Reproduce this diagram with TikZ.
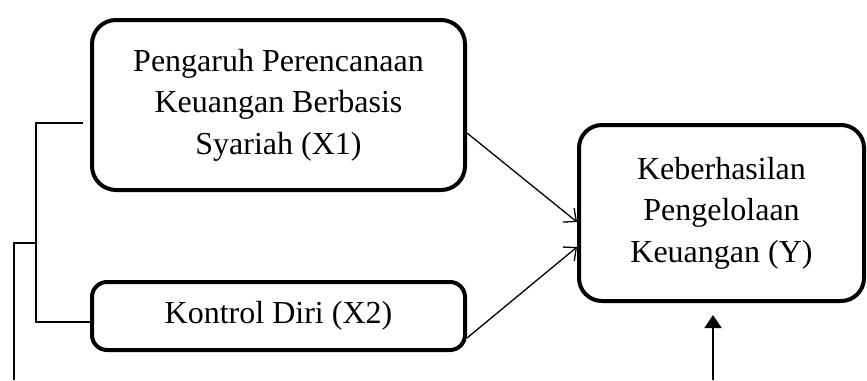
\documentclass[tikz,border=0pt]{standalone}
\usepackage{fontspec}
\setmainfont{Liberation Serif}
\usetikzlibrary{positioning, arrows.meta}

\begin{document}
\begin{tikzpicture} [
						x=0.5pt, y=-0.5pt,
						node distance=44pt,
						every node/.style={font=\fontsize{16pt}{20.8pt}\selectfont, align=center},
						var/.style={draw, line width=2pt, rounded corners=12pt, inner sep=0pt},
						link/.style={line width=0.65pt},
						>={Straight Barb[length=5pt,width=9pt]}
					]

\useasboundingbox (0,0) rectangle (867,380);

\node (x1) [var, minimum width=186.5pt, minimum height=85pt] at (278.5,105) {Pengaruh Perencanaan\\Keuangan Berbasis\\Syariah (X1)};
\node (x2) [var, rounded corners=7.5pt, minimum width=186.5pt, minimum height=34pt, below=of x1] {Kontrol Diri (X2)};
\node (y) [var, rounded corners=11.5pt, minimum width=142.5pt, minimum height=88pt] at (721.5,213) {Keberhasilan\\Pengelolaan\\Keuangan (Y)};

\coordinate (split) at (36,243);
\coordinate (foot) at (14,380);
\coordinate (yfoot) at (713,380);

\draw[link] ([xshift=-3.5pt,yshift=-9pt]x1.west) -| (split) |- ([yshift=-3pt]x2.west);
\draw[link] (split) -| (foot);

\path[link, ->]
	([yshift=-14pt]x1.east) edge ([yshift=-4.5pt]y.west)
	([yshift=-11pt]x2.east) edge ([yshift=-17pt]y.west);

\draw[line width=1pt, -{Triangle[length=6.5pt,width=8.5pt]}] (yfoot) -- ([xshift=-4.25pt,yshift=-6pt]y.south);
\end{tikzpicture}
\end{document}
